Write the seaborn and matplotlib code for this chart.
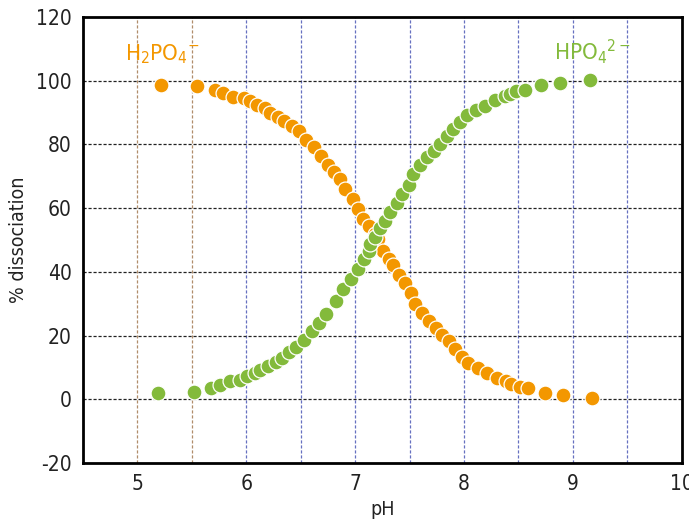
import matplotlib
matplotlib.use("Agg")
import matplotlib.pyplot as plt
import seaborn as sns
import pandas as pd

# ---- data ----
ph_h2po4 = [5.22, 5.55, 5.71, 5.79, 5.88, 5.98, 6.03, 6.10, 6.17, 6.22, 6.29, 6.35, 6.42,
            6.48, 6.55, 6.62, 6.69, 6.75, 6.81, 6.86, 6.91, 6.98, 7.03, 7.07, 7.13, 7.18,
            7.21, 7.26, 7.31, 7.35, 7.40, 7.46, 7.51, 7.55, 7.61, 7.68, 7.74, 7.80, 7.86,
            7.92, 7.98, 8.04, 8.13, 8.21, 8.30, 8.39, 8.43, 8.51, 8.59, 8.74, 8.91, 9.18]
pct_h2po4 = [98.5, 98.3, 97.2, 96.1, 95.0, 94.5, 93.5, 92.3, 91.4, 89.8, 88.6, 87.3, 85.7,
             84.2, 81.3, 79.2, 76.5, 73.5, 71.3, 69.2, 66.1, 62.8, 59.8, 56.7, 54.3, 52.0,
             50.4, 46.6, 44.1, 42.0, 38.9, 36.6, 33.4, 30.0, 27.0, 24.5, 22.4, 20.3, 18.2,
             15.8, 13.4, 11.3, 9.8, 8.2, 6.6, 5.6, 4.9, 4.0, 3.6, 1.9, 1.2, 0.5]

ph_hpo4 = [5.19, 5.52, 5.68, 5.76, 5.85, 5.94, 6.01, 6.08, 6.13, 6.20, 6.27, 6.33, 6.39,
           6.46, 6.53, 6.60, 6.67, 6.73, 6.82, 6.89, 6.96, 7.03, 7.08, 7.13, 7.14, 7.18,
           7.23, 7.27, 7.32, 7.38, 7.43, 7.49, 7.53, 7.60, 7.66, 7.72, 7.78, 7.84, 7.90,
           7.96, 8.03, 8.11, 8.19, 8.28, 8.38, 8.42, 8.48, 8.56, 8.71, 8.88, 9.16]
pct_hpo4 = [2.1, 2.3, 3.6, 4.5, 5.7, 5.9, 7.2, 8.2, 9.3, 10.6, 11.6, 13.0, 14.8,
            16.4, 18.7, 21.4, 23.9, 26.8, 30.8, 34.7, 37.8, 41.0, 44.1, 46.7, 48.8, 51.0,
            53.8, 56.1, 58.7, 61.6, 64.3, 67.4, 70.8, 73.4, 76.0, 77.8, 80.2, 82.5, 84.9,
            87.0, 89.1, 90.9, 92.2, 93.8, 95.1, 95.9, 96.7, 97.0, 98.7, 99.2, 100.1]

x_ticks = [5, 6, 7, 8, 9, 10]
y_ticks = [-20, 0, 20, 40, 60, 80, 100, 120]
grid_brown_x = [5, 5.5]
grid_blue_x = [6, 6.5, 7, 7.5, 8, 8.5, 9, 9.5]
grid_y = [0, 20, 40, 60, 80, 100]

ORANGE = "#F39700"
GREEN = "#83BA3B"

sns.set_theme(style="white")
plt.rcParams["font.family"] = ["DejaVu Sans"]
plt.rcParams["font.stretch"] = "condensed"
plt.rcParams["axes.unicode_minus"] = False
plt.rcParams["mathtext.fontset"] = "custom"
plt.rcParams["mathtext.rm"] = "DejaVu Sans:stretch=condensed"
plt.rcParams["mathtext.default"] = "rm"

df1 = pd.DataFrame({"pH": ph_h2po4, "pct": pct_h2po4})
df2 = pd.DataFrame({"pH": ph_hpo4, "pct": pct_hpo4})

fig = plt.figure(figsize=(6.89, 5.23), dpi=100)
ax = fig.add_axes([0.1205, 0.1147, 0.869, 0.8528])

for x in grid_brown_x:
    ax.axvline(x, color="#B08D6A", lw=0.9, ls=(0, (2.5, 1.5)), zorder=1)
for x in grid_blue_x:
    ax.axvline(x, color="#6670C0", lw=0.9, ls=(0, (2.5, 1.5)), zorder=1)
for y in grid_y:
    ax.axhline(y, color="#222222", lw=0.9, ls=(0, (2.5, 1.5)), zorder=1)

sns.scatterplot(data=df1, x="pH", y="pct", color=ORANGE, s=115, edgecolor="white",
                linewidth=0.9, ax=ax, zorder=3)
sns.scatterplot(data=df2, x="pH", y="pct", color=GREEN, s=115, edgecolor="white",
                linewidth=0.9, ax=ax, zorder=4)

ax.set_xlim(4.5, 10)
ax.set_ylim(-20, 120)
ax.set_xticks(x_ticks)
ax.set_yticks(y_ticks)
ax.tick_params(length=0, labelsize=15, colors="#222222", pad=8)
ax.set_xlabel("pH", fontsize=14, color="#222222", labelpad=4)
ax.set_ylabel("% dissociation", fontsize=14, color="#222222", labelpad=6)
for s in ax.spines.values():
    s.set_color("black")
    s.set_linewidth(2)

ax.text(4.89, 106.5, r"H$_2$PO$_4$$^{-}$", color=ORANGE, fontsize=16, zorder=5)
ax.text(8.83, 106.5, r"HPO$_4$$^{2-}$", color=GREEN, fontsize=16, zorder=5)

fig.savefig("out.png", dpi=100)
